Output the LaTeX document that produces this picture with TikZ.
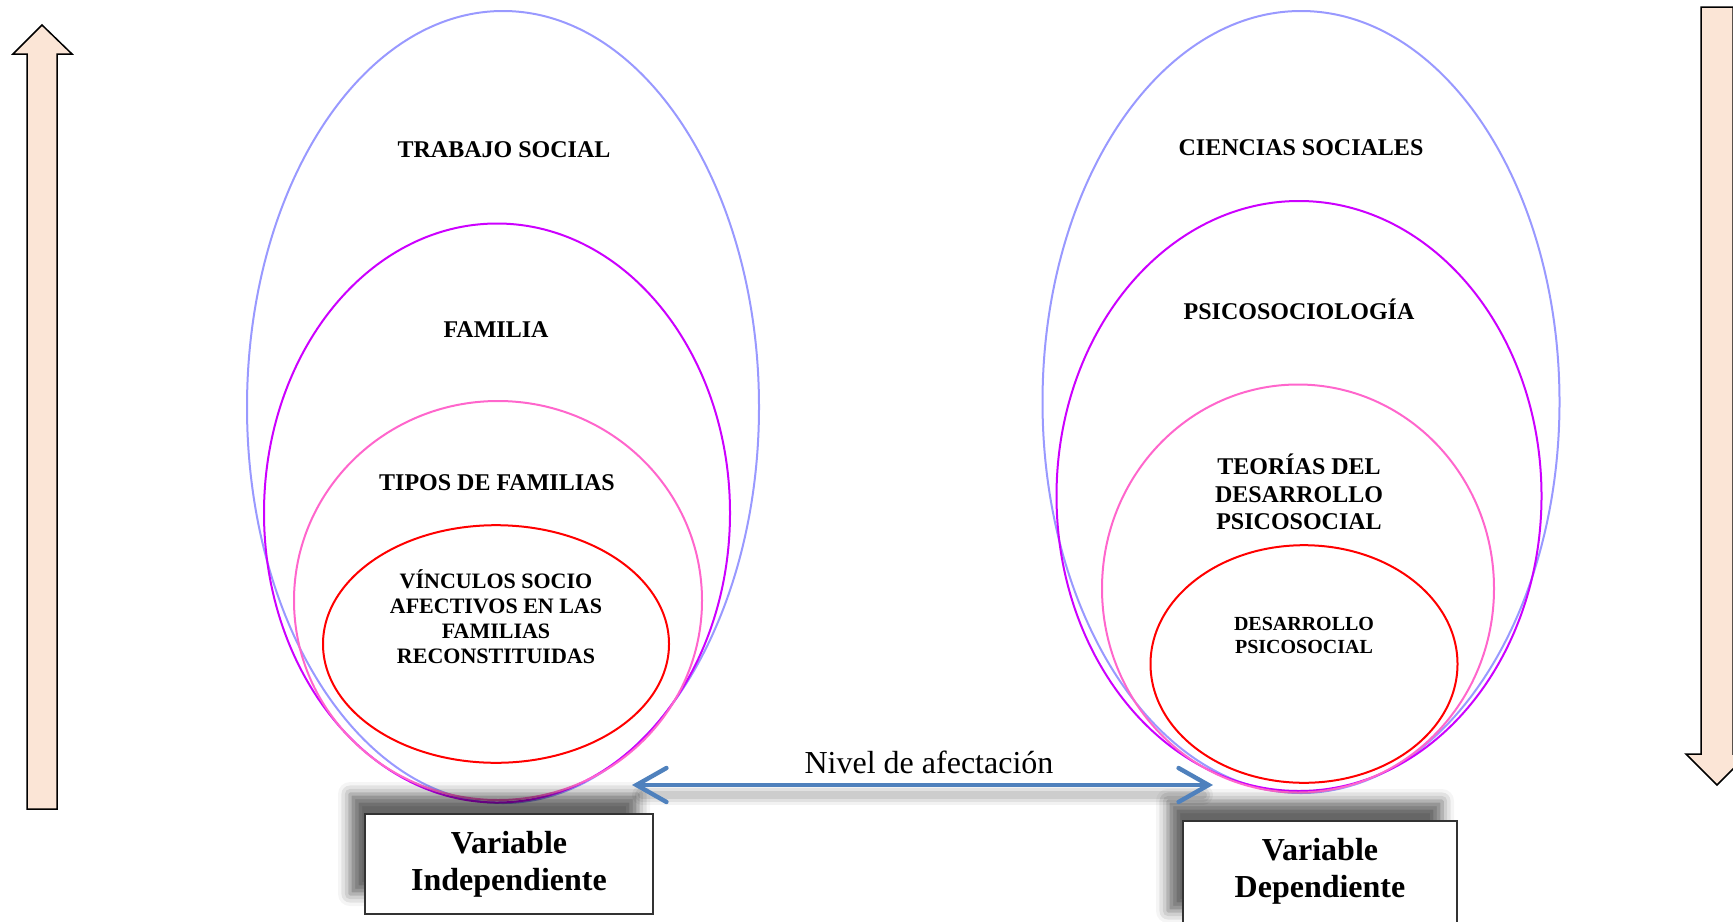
\documentclass[tikz,border=0pt]{standalone}
\usepackage{fontspec}
\setmainfont{Liberation Serif}
\usetikzlibrary{shapes.geometric,arrows.meta,shadows.blur}
\definecolor{cblue}{HTML}{9999FF}
\definecolor{cpurple}{HTML}{CC00FF}
\definecolor{cpink}{HTML}{FF66CC}
\definecolor{cred}{HTML}{FF0000}
\definecolor{arrowfill}{HTML}{FBE5D6}
\definecolor{steel}{HTML}{4F81BD}
\begin{document}
\begin{tikzpicture}[x=0.5pt,y=-0.5pt,
  ell/.style={ellipse, inner sep=0pt, outer sep=0pt, line width=1pt},
  lbl/.style={font=\bfseries\fontsize{12}{13.75}\selectfont, align=center, inner sep=0pt},
  lblsmall/.style={font=\bfseries\fontsize{11}{12.5}\selectfont, align=center, inner sep=0pt},
  lbltiny/.style={font=\bfseries\fontsize{10}{11.5}\selectfont, align=center, inner sep=0pt},
  bigarrow/.style={fill=arrowfill, draw=black, line width=0.75pt, line join=miter},
  vbox/.style={draw=black!80, line width=0.6pt, fill=white, inner sep=0pt,
    blur shadow={shadow xshift=-7.5pt, shadow yshift=10pt, shadow blur radius=6pt, shadow opacity=60}},
  vtext/.style={font=\bfseries\fontsize{16}{18.5}\selectfont, align=center, inner sep=0pt},
  link/.style={draw=steel, line width=2.2pt, line cap=round,
    {Straight Barb[length=15pt,width=17pt,line cap=round]}-{Straight Barb[length=15pt,width=17pt,line cap=round]}}
]
\useasboundingbox (0,0) rectangle (1733,921);
\clip (0,0) rectangle (1733,921);

% big side arrows
\draw[bigarrow] (27,809) -- (27,54) -- (13,54) -- (42,25) -- (72,54) -- (57,54) -- (57,809) -- cycle;
\draw[bigarrow] (1701,7) -- (1701,754) -- (1686,754) -- (1717,785) -- (1748,754) -- (1733,754) -- (1733,7) -- cycle;

% left group of ellipses
\node[ell, draw=cblue, minimum width=256pt, minimum height=396pt] (lb) at (503,407) {};
\node[ell, draw=cpurple, minimum width=233pt, minimum height=289.5pt] (lp) at (497,513) {};
\node[ell, draw=cpink, minimum width=204pt, minimum height=199.5pt] (lk) at (498,600.5) {};
\node[ell, draw=cred, minimum width=173pt, minimum height=118.8pt] (lr) at (496,644) {};

% right group of ellipses
\node[ell, draw=cblue, minimum width=258.5pt, minimum height=391pt] (rb) at (1301,402) {};
\node[ell, draw=cpurple, minimum width=242.5pt, minimum height=295pt] (rp) at (1299,496) {};
\node[ell, draw=cpink, minimum width=196pt, minimum height=204pt] (rk) at (1298,588.5) {};
\node[ell, draw=cred, minimum width=153.5pt, minimum height=118.8pt] (rr) at (1304,664) {};

% labels left
\node[lbl] (t1) at (504,150) {TRABAJO SOCIAL};
\node[lbl] (t2) at (496,330) {FAMILIA};
\node[lbl] (t3) at (497,483) {TIPOS DE FAMILIAS};
\node[lblsmall] (t4) at (496,617) {VÍNCULOS SOCIO\\AFECTIVOS EN LAS\\FAMILIAS\\RECONSTITUIDAS};

% labels right
\node[lbl] (s1) at (1301,148) {CIENCIAS SOCIALES};
\node[lbl] (s2) at (1299,309) {PSICOSOCIOLOGÍA};
\node[lbl] (s3) at (1299,492) {TEORÍAS DEL\\DESARROLLO\\PSICOSOCIAL};
\node[lbltiny] (s4) at (1304,635) {DESARROLLO\\PSICOSOCIAL};

% variable boxes
\node[vbox, minimum width=144pt, minimum height=50pt] (vi) at (509,864) {};
\node[vtext] (vit) at (509,864) {Variable\\Independiente};
\node[vbox, minimum width=137pt, minimum height=55pt] (vd) at (1320,876) {};
\node[vtext] (vdt) at (1320,871) {Variable\\Dependiente};

% double arrow with soft shadow
\coordinate (aL) at (632,785);
\coordinate (aR) at (1213,785);
\foreach \w/\o in {10pt/0.05,7pt/0.07,4pt/0.09} {
  \draw[black, line width=\w, opacity=\o, line cap=round] ([shift={(10,10)}]aL) -- ([shift={(-10,10)}]aR);
}
\draw[link] (aL) -- (aR);
\node[font=\fontsize{16}{18}\selectfont, inner sep=0pt] (nv) at (929,762) {Nivel de afectación};
\end{tikzpicture}
\end{document}
